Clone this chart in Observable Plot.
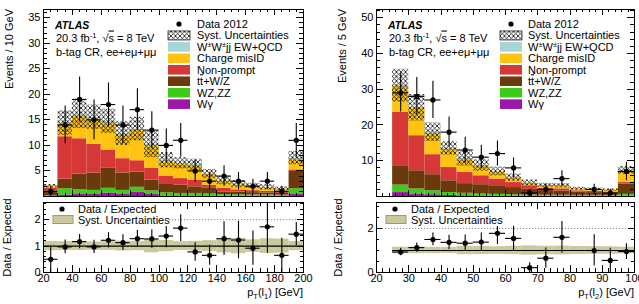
<!DOCTYPE html>
<html>
<head>
<meta charset="utf-8">
<script src="https://cdn.jsdelivr.net/npm/d3@7"></script>
<script src="https://cdn.jsdelivr.net/npm/@observablehq/plot@0.6"></script>
<style>
  html, body { margin: 0; padding: 0; background: #fff; }
  #fig { position: relative; width: 639px; height: 304px; overflow: hidden; }
  #fig svg { position: absolute; overflow: visible; }
</style>
</head>
<body>
<div id="fig"></div>
<script>
// Background components, listed from the bottom of the stack upwards
const componentColors = ["#9b16a9", "#3ccc18", "#6b3a0c", "#d63838", "#ffc412", "#a7d4d7"];

// ---------- leading-lepton pT, 10 GeV bins ----------
const l1BinLow   = [20, 30, 40, 50, 60, 70, 80, 90, 100, 110, 120, 130, 140, 150, 160, 170, 180, 190];
const l1BinWidth = 10;
const l1Wgamma   = [0, 0.3, 0.5, 0.4, 0.7, 0.5, 0.9, 0.4, 0.1, 0.1, 0.1, 0.05, 0.05, 0.05, 0.05, 0.05, 0.05, 0.5];
const l1WZZZ     = [0.1, 1.2, 0.8, 0.8, 0.9, 0.7, 0.9, 0.7, 0.6, 0.5, 0.5, 0.45, 0.3, 0.3, 0.25, 0.25, 0.2, 1.0];
const l1TTV      = [1.0, 1.9, 3.1, 3.4, 4.0, 3.4, 3.0, 2.1, 1.8, 1.6, 1.3, 1.1, 0.55, 0.5, 0.45, 0.4, 0.35, 3.4];
const l1NonPrompt= [0.5, 8.3, 6.9, 5.6, 3.5, 2.8, 2.2, 2.3, 1.5, 1.3, 1.3, 0.6, 0.7, 0.45, 0.4, 0.3, 0.25, 0.3];
const l1MisID    = [0.35, 2.5, 4.5, 5.0, 5.3, 4.6, 5.9, 4.5, 2.9, 2.8, 2.8, 2.1, 1.4, 1.0, 0.85, 0.7, 0.6, 2.1];
const l1WWjj     = [0.05, 0.2, 0.2, 0.3, 0.3, 0.3, 0.3, 0.2, 0.2, 0.2, 0.2, 0.1, 0.1, 0.1, 0.1, 0.1, 0.05, 0.2];
const l1Syst     = [0.35, 2.4, 2.7, 2.4, 2.4, 2.3, 2.3, 2.6, 1.5, 1.1, 1.1, 0.9, 0.8, 0.7, 0.5, 0.5, 0.4, 1.3];
const l1Data     = [1, 14, 19, 15, 18, 14, 17, 13, 10, 11, 5, 3, 4, 3, 2, 3, 1, 11];
const l1DataErr  = [1, 3.7, 4.4, 3.9, 4.2, 3.7, 4.1, 3.6, 3.2, 3.3, 2.2, 1.7, 2.0, 1.7, 1.4, 1.7, 1, 3.3];
const l1Ratio    = [0.5, 0.97, 1.17, 0.97, 1.22, 1.13, 1.28, 1.27, 1.38, 1.68, 0.78, 0.65, 1.28, 1.23, 0.92, 1.73, 0.65, 1.45];
const l1RatioErr = [0.5, 0.26, 0.27, 0.25, 0.29, 0.3, 0.31, 0.35, 0.44, 0.51, 0.35, 0.38, 0.64, 0.71, 0.65, 1.0, 0.65, 0.44];
const l1XLabels  = [20, 40, 60, 80, 100, 120, 140, 160, 180, 200];
const l1YLabels  = [5, 10, 15, 20, 25, 30, 35];
const l1RLabels  = [0, 1, 2];

// ---------- subleading-lepton pT, 5 GeV bins ----------
const l2BinLow   = [25, 30, 35, 40, 45, 50, 55, 60, 65, 70, 75, 80, 85, 90, 95];
const l2BinWidth = 5;
const l2Wgamma   = [1.1, 0.7, 0.5, 0.3, 0.2, 0.1, 0.1, 0.1, 0.05, 0.05, 0.05, 0.05, 0.05, 0.05, 0.1];
const l2WZZZ     = [2.1, 1.4, 1.1, 0.8, 0.7, 0.6, 0.5, 0.4, 0.35, 0.3, 0.3, 0.25, 0.25, 0.2, 0.5];
const l2TTV      = [5.4, 5.1, 4.5, 3.3, 2.7, 2.6, 2.2, 2.0, 1.6, 1.3, 1.2, 0.9, 0.8, 0.7, 2.9];
const l2NonPrompt= [15.0, 9.8, 5.6, 3.7, 3.1, 2.5, 2.1, 1.4, 1.0, 0.6, 0.6, 0.4, 0.35, 0.3, 0.4];
const l2MisID    = [7.1, 7.6, 6.0, 5.2, 3.6, 2.7, 1.9, 1.3, 0.7, 0.75, 0.75, 0.55, 0.5, 0.5, 3.2];
const l2WWjj     = [0.3, 0.2, 0.3, 0.2, 0.2, 0.2, 0.2, 0.1, 0.1, 0.1, 0.1, 0.05, 0.05, 0.05, 0.2];
const l2Syst     = [4.6, 3.7, 2.6, 1.9, 2.0, 1.6, 1.2, 1.0, 0.8, 0.6, 0.6, 0.4, 0.35, 0.3, 1.1];
const l2Data     = [29, 28, 27, 18, 13, 11, 12, 8, 1, 2, 5, 0, 2, 1, 7];
const l2DataErr  = [5.4, 5.3, 5.2, 4.2, 3.6, 3.3, 3.5, 2.8, 1, 1.4, 2.2, 0, 1.4, 1, 2.6];
const l2Ratio    = [0.93, 1.13, 1.5, 1.37, 1.33, 1.38, 1.78, 1.55, 0.22, 0.65, 1.6, null, 1.0, 0.55, 0.95];
const l2RatioErr = [0.17, 0.21, 0.29, 0.32, 0.37, 0.42, 0.51, 0.55, 0.22, 0.46, 0.72, null, 0.71, 0.55, 0.36];
const l2XLabels  = [20, 30, 40, 50, 60, 70, 80, 90, 100];
const l2YLabels  = [10, 20, 30, 40, 50];
const l2RLabels  = [0, 2];

// Legend labels (segments allow superscripts and overbars)
const legendLabels = [
  ["Data 2012"],
  ["Syst. Uncertainties"],
  ["W", {t: "±", sup: true}, "W", {t: "±", sup: true}, "jj EW+QCD"],
  ["Charge misID"],
  ["Non-prompt"],
  ["t", {t: "t", over: true}, "+W/Z"],
  ["WZ,ZZ"],
  ["Wγ"]
];

const FONT = '"Liberation Sans", Arial, Helvetica, sans-serif';
const BAND = "#c9c99b";
const fig = document.getElementById("fig");
const intFormat = d => String(d);

function place(svg, left, top) {
  svg.style.left = left + "px";
  svg.style.top = top + "px";
  fig.appendChild(svg);
}

function addText(g, x, y, segments, opts = {}) {
  const t = g.append("text")
    .attr("x", x).attr("y", y)
    .attr("font-family", FONT)
    .attr("font-size", opts.size || 11)
    .attr("fill", "black")
    .attr("text-anchor", opts.anchor || "start");
  if (opts.weight) t.attr("font-weight", opts.weight);
  if (opts.italic) t.attr("font-style", "italic");
  if (opts.transform) t.attr("transform", opts.transform);
  let shift = 0;
  for (const s of segments) {
    const seg = typeof s === "string" ? {t: s} : s;
    const target = seg.sup ? -4 : seg.sub ? 3 : 0;
    const sp = t.append("tspan").text(seg.t).attr("dy", target - shift);
    if (seg.sup || seg.sub) sp.attr("font-size", 7.5);
    if (seg.over) sp.attr("text-decoration", "overline");
    shift = target;
  }
  return t;
}

// Inward ROOT-style ticks on all four sides of the frame
function frameTicks(svg, chart, spec) {
  const sx = chart.scale("x"), sy = chart.scale("y");
  const [xl, xr] = sx.range, [yb, yt] = sy.range;
  const d = [];
  const px = v => Math.round(sx.apply(v)) + 0.5;
  const py = v => Math.round(sy.apply(v)) + 0.5;
  const vx = (v, len) => { const x = px(v); d.push(`M${x},${yb}v${-len}M${x},${yt}v${len}`); };
  const vy = (v, len) => { const y = py(v); d.push(`M${xl},${y}h${len}M${xr},${y}h${-len}`); };
  spec.xMinor.forEach(v => vx(v, spec.xMinorLen));
  spec.xMajor.forEach(v => vx(v, spec.xMajorLen));
  spec.yMinor.forEach(v => vy(v, spec.yMinorLen));
  spec.yMajor.forEach(v => vy(v, spec.yMajorLen));
  d3.select(svg).append("path").attr("d", d.join("")).attr("stroke", "black").attr("stroke-width", 1).attr("fill", "none");
}

function addHatch(svg, id) {
  const p = d3.select(svg).insert("defs", ":first-child").append("pattern")
    .attr("id", id).attr("patternUnits", "userSpaceOnUse").attr("width", 4.5).attr("height", 4.5);
  p.append("path").attr("d", "M0,0L4.5,4.5M4.5,0L0,4.5")
    .attr("stroke", "#1a1a1a").attr("stroke-width", 0.85).attr("fill", "none");
}

function drawPanel(p) {
  const comps = [p.wg, p.wz, p.ttv, p.np, p.mis, p.ww];
  const bins = p.binLow.map((lo, i) => ({
    x1: lo, x2: lo + p.binWidth, xc: lo + p.binWidth / 2,
    total: d3.sum(comps, c => c[i]), syst: p.syst[i],
    n: p.data[i], err: p.dataErr[i], r: p.ratio[i], rErr: p.ratioErr[i]
  }));
  const stack = [];
  bins.forEach((b, i) => {
    let acc = 0;
    comps.forEach((c, k) => {
      stack.push({x1: b.x1, x2: b.x2, y1: acc, y2: acc + c[i], color: componentColors[k]});
      acc += c[i];
    });
  });
  const observed = bins.filter(b => b.n > 0);
  const ratioPts = bins.filter(b => b.r != null);
  const xStart = p.binLow[0], xEnd = p.binLow[p.binLow.length - 1] + p.binWidth;
  const style = {fontFamily: FONT, fontSize: "11px", background: "transparent", color: "black", overflow: "visible"};

  // ---- upper pad: stacked expectation with data ----
  const top = Plot.plot({
    width: p.width, height: 200,
    marginTop: 9, marginBottom: 4, marginLeft: p.ml, marginRight: p.mr,
    x: {domain: p.xDomain, axis: null},
    y: {domain: [0, p.yMaxTop], axis: null},
    color: {type: "identity"},
    style,
    marks: [
      Plot.rect(stack, {x1: "x1", x2: "x2", y1: "y1", y2: "y2", fill: "color"}),
      Plot.rect(bins, {x1: "x1", x2: "x2", y1: d => d.total - d.syst, y2: d => d.total + d.syst, fill: `url(#${p.hatchId})`}),
      Plot.ruleX(observed, {x: "xc", y1: d => Math.max(0, d.n - d.err), y2: d => d.n + d.err, stroke: "black", strokeWidth: 1.1}),
      Plot.ruleY(observed, {y: "n", x1: "x1", x2: "x2", stroke: "black", strokeWidth: 1.1}),
      Plot.dot(observed, {x: "xc", y: "n", r: 2.6, fill: "black"}),
      Plot.axisY({ticks: p.yLabels, tickFormat: intFormat, tickSize: 0, tickPadding: 3, label: null, fontSize: 11}),
      Plot.frame({stroke: "black"})
    ]
  });
  addHatch(top, p.hatchId);
  frameTicks(top, top, {
    xMajor: p.xLabels, xMinor: d3.range(p.xDomain[0], p.xDomain[1] + 1e-9, p.xMinorStep), xMajorLen: 6, xMinorLen: 3,
    yMajor: d3.range(0, p.yMaxTop, p.yMajorStep), yMinor: d3.range(0, p.yMaxTop, p.yMinorStep), yMajorLen: 7, yMinorLen: 4
  });
  const gt = d3.select(top);
  addText(gt, 0, 0, [p.yTitle], {anchor: "end", transform: `translate(${p.yTitleX},9) rotate(-90)`});
  addText(gt, p.atlasX, 28.5, ["ATLAS"], {weight: "bold", italic: true, size: 10.5});
  addText(gt, p.atlasX + 1, 41.5, ["20.3 fb", {t: "-1", sup: true}, ", √", {t: "s", over: true}, " = 8 TeV"]);
  addText(gt, p.atlasX + 1, 56, ["b-tag CR, ee+eμ+μμ"]);
  // legend
  const order = [5, 4, 3, 2, 1, 0];
  legendLabels.forEach((lab, i) => {
    const cy = 24 + i * 11.45;
    if (i === 0) {
      gt.append("circle").attr("cx", p.legSwatchX + 11).attr("cy", cy).attr("r", 2.6).attr("fill", "black");
    } else if (i === 1) {
      gt.append("rect").attr("x", p.legSwatchX).attr("y", cy - 4.5).attr("width", 22).attr("height", 9)
        .attr("fill", "white");
      gt.append("rect").attr("x", p.legSwatchX).attr("y", cy - 4.5).attr("width", 22).attr("height", 9)
        .attr("fill", `url(#${p.hatchId})`).attr("stroke", "#222").attr("stroke-width", 0.8);
    } else {
      gt.append("rect").attr("x", p.legSwatchX).attr("y", cy - 4.8).attr("width", 22).attr("height", 9.6)
        .attr("fill", componentColors[order[i - 2]]);
    }
    addText(gt, p.legTextX, cy + 4, lab);
  });
  place(top, p.left, 0);

  // ---- lower pad: data / expectation ----
  const ratio = Plot.plot({
    width: p.width, height: 104,
    marginTop: 2, marginBottom: 32, marginLeft: p.ml, marginRight: p.mr,
    x: {domain: p.xDomain, axis: null},
    y: {domain: [0, p.yMaxRatio], axis: null},
    style,
    marks: [
      Plot.rect(bins, {x1: "x1", x2: "x2", y1: d => 1 - d.syst / d.total, y2: d => 1 + d.syst / d.total, fill: BAND, clip: true}),
      Plot.ruleY([2], {stroke: "#888", strokeDasharray: "1.2,1.8"}),
      Plot.ruleY([1], {x1: xStart, x2: xEnd, stroke: "black", strokeWidth: 1.2}),
      Plot.ruleX(ratioPts, {x: "xc", y1: d => Math.max(0, d.r - d.rErr), y2: d => d.r + d.rErr, stroke: "black", strokeWidth: 1.1, clip: true}),
      Plot.ruleY(ratioPts, {y: "r", x1: "x1", x2: "x2", stroke: "black", strokeWidth: 1.1}),
      Plot.dot(ratioPts, {x: "xc", y: "r", r: 2.6, fill: "black"}),
      Plot.axisY({ticks: p.rLabels, tickFormat: intFormat, tickSize: 0, tickPadding: 3, label: null, fontSize: 11}),
      Plot.axisX({ticks: p.xLabels, tickFormat: intFormat, tickSize: 0, tickPadding: 2, label: null, fontSize: 11}),
      Plot.frame({stroke: "black"})
    ]
  });
  frameTicks(ratio, ratio, {
    xMajor: p.xLabels, xMinor: d3.range(p.xDomain[0], p.xDomain[1] + 1e-9, p.xMinorStep), xMajorLen: 7, xMinorLen: 4,
    yMajor: d3.range(0, p.yMaxRatio, p.rMajorStep), yMinor: d3.range(0, p.yMaxRatio, p.rMinorStep), yMajorLen: 6, yMinorLen: 3
  });
  const gr = d3.select(ratio);
  // legend box
  gr.append("rect").attr("x", p.rLegX - 4).attr("y", 3).attr("width", 120).attr("height", 23).attr("fill", "white");
  gr.append("circle").attr("cx", p.rLegX + 9).attr("cy", 9).attr("r", 2.6).attr("fill", "black");
  addText(gr, p.rLegX + 25, 13, ["Data / Expected"]);
  gr.append("rect").attr("x", p.rLegX).attr("y", 15.5).attr("width", 20).attr("height", 8)
    .attr("fill", BAND).attr("stroke", "#9d9d66").attr("stroke-width", 1);
  addText(gr, p.rLegX + 25, 24, ["Syst. Uncertainties"]);
  addText(gr, 0, 0, ["Data / Expected"], {anchor: "middle", transform: `translate(${p.rTitleX},37.5) rotate(-90)`});
  addText(gr, p.width - p.mr, 96, ["p", {t: "T", sub: true}, "(l", {t: p.lep, sub: true}, ") [GeV]"], {anchor: "end"});
  place(ratio, p.left, 200);
}

drawPanel({
  left: 0, width: 320, ml: 43, mr: 17,
  binLow: l1BinLow, binWidth: l1BinWidth,
  wg: l1Wgamma, wz: l1WZZZ, ttv: l1TTV, np: l1NonPrompt, mis: l1MisID, ww: l1WWjj,
  syst: l1Syst, data: l1Data, dataErr: l1DataErr, ratio: l1Ratio, ratioErr: l1RatioErr,
  xDomain: [20, 200], xLabels: l1XLabels, xMinorStep: 5,
  yMaxTop: 36.6, yLabels: l1YLabels, yMajorStep: 5, yMinorStep: 1,
  yMaxRatio: 2.65, rLabels: l1RLabels, rMajorStep: 1, rMinorStep: 0.2,
  yTitle: "Events / 10 GeV", yTitleX: 13, rTitleX: 11,
  atlasX: 55, legSwatchX: 168, legTextX: 197, rLegX: 53,
  hatchId: "hatchL1", lep: "1"
});

drawPanel({
  left: 320, width: 319, ml: 56, mr: 5,
  binLow: l2BinLow, binWidth: l2BinWidth,
  wg: l2Wgamma, wz: l2WZZZ, ttv: l2TTV, np: l2NonPrompt, mis: l2MisID, ww: l2WWjj,
  syst: l2Syst, data: l2Data, dataErr: l2DataErr, ratio: l2Ratio, ratioErr: l2RatioErr,
  xDomain: [20, 100], xLabels: l2XLabels, xMinorStep: 2,
  yMaxTop: 52.3, yLabels: l2YLabels, yMajorStep: 10, yMinorStep: 2,
  yMaxRatio: 3.18, rLabels: l2RLabels, rMajorStep: 2, rMinorStep: 0.5,
  yTitle: "Events / 5 GeV", yTitleX: 26, rTitleX: 22,
  atlasX: 68, legSwatchX: 180, legTextX: 208, rLegX: 66,
  hatchId: "hatchL2", lep: "2"
});
</script>
</body>
</html>
